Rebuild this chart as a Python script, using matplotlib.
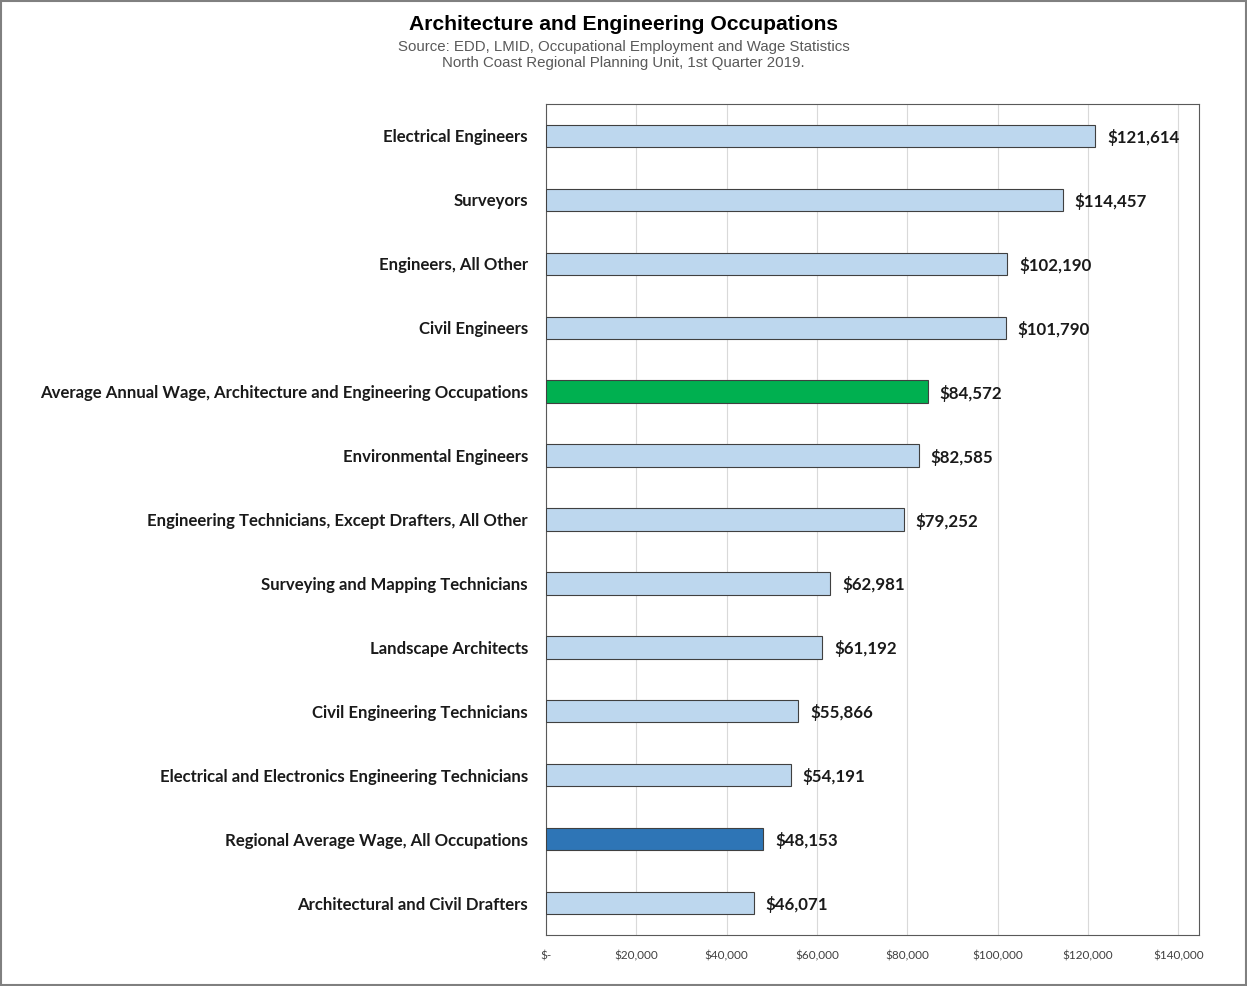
import matplotlib.pyplot as plt
from matplotlib.ticker import FuncFormatter

occupations = [
    "Electrical Engineers",
    "Surveyors",
    "Engineers, All Other",
    "Civil Engineers",
    "Average Annual Wage, Architecture and Engineering Occupations",
    "Environmental Engineers",
    "Engineering Technicians, Except Drafters, All Other",
    "Surveying and Mapping Technicians",
    "Landscape Architects",
    "Civil Engineering Technicians",
    "Electrical and Electronics Engineering Technicians",
    "Regional Average Wage, All Occupations",
    "Architectural and Civil Drafters",
]
wages = [121614, 114457, 102190, 101790, 84572, 82585, 79252,
         62981, 61192, 55866, 54191, 48153, 46071]
ticks = [0, 20000, 40000, 60000, 80000, 100000, 120000, 140000]

colors = []
for name in occupations:
    if name.startswith("Average Annual Wage"):
        colors.append("#00B050")
    elif name.startswith("Regional Average"):
        colors.append("#2E75B6")
    else:
        colors.append("#BDD7EE")

fig = plt.figure(figsize=(12.47, 9.86), dpi=100)
ax = fig.add_axes([0.4379, 0.0517, 0.5236, 0.8428])

y = list(range(len(occupations)))[::-1]
ax.barh(y, wages, height=0.35, color=colors, edgecolor="#404040",
        linewidth=0.8, zorder=3)

for yi, w in zip(y, wages):
    ax.text(w + 2600, yi, f"${w:,}", va="center_baseline", ha="left",
            fontsize=12.2, fontweight="bold", family="Lato", color="#1a1a1a")

ax.set_yticks(y)
ax.set_yticklabels(occupations, fontsize=12.1, fontweight="bold",
                   family="Lato", color="#1a1a1a")
ax.set_ylim(-0.5, len(occupations) - 0.5)
ax.set_xlim(0, 144600)
ax.set_xticks(ticks)
ax.xaxis.set_major_formatter(FuncFormatter(
    lambda v, p: "$-" if v == 0 else f"${v:,.0f}"))
for lab in ax.get_xticklabels():
    lab.set_fontsize(8.5)
    lab.set_family("Lato")
    lab.set_color("#404040")
ax.tick_params(axis="x", length=0, pad=11)
ax.tick_params(axis="y", length=0, pad=13)
ax.grid(axis="x", color="#d9d9d9", linewidth=0.8, zorder=0)
for s in ax.spines.values():
    s.set_color("#595959")
    s.set_linewidth(0.8)

fig.text(0.5, 0.9747, "Architecture and Engineering Occupations",
         ha="center", va="center", fontsize=15.2, fontweight="bold",
         family="Liberation Sans")
fig.text(0.5, 0.9524, "Source: EDD, LMID, Occupational Employment and Wage Statistics",
         ha="center", va="center", fontsize=10.8, color="#595959",
         family="Liberation Sans")
fig.text(0.5, 0.9361, "North Coast Regional Planning Unit, 1st Quarter 2019.",
         ha="center", va="center", fontsize=10.8, color="#595959",
         family="Liberation Sans")

fig.patches.append(plt.Rectangle((0.0008, 0.001), 0.9984, 0.998,
                                 transform=fig.transFigure, fill=False,
                                 edgecolor="#808080", linewidth=1.5))

fig.savefig("out.png", dpi=100)
